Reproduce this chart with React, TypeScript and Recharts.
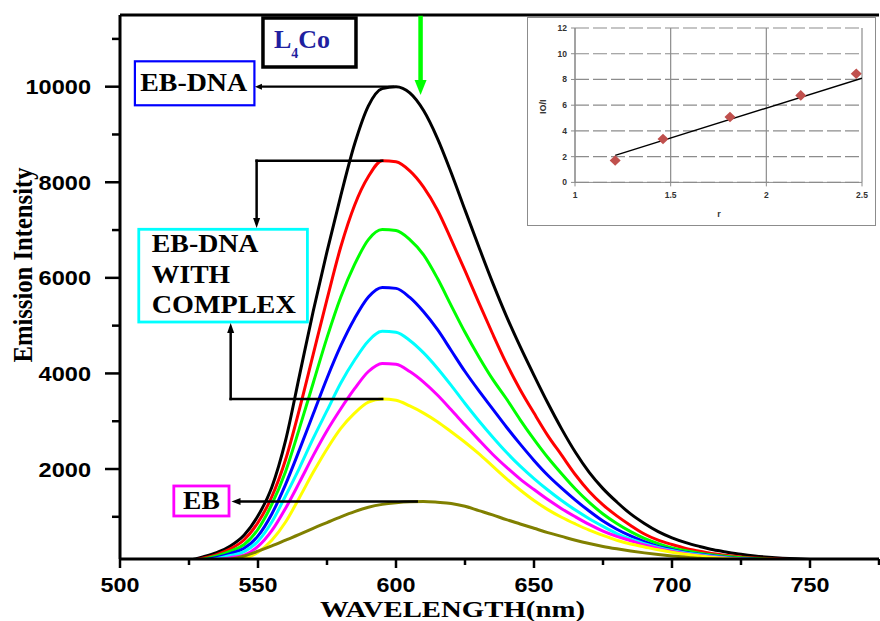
import React from 'react';
import {
  LineChart, Line, XAxis, YAxis, ReferenceLine, ReferenceArea,
  ComposedChart, Scatter, CartesianGrid,
} from 'recharts';

const SERIF = "'Liberation Serif', 'Times New Roman', serif";
const SANS = "'Liberation Sans', Arial, sans-serif";

// ---------- main spectra ----------
const wavelengths = [
  505, 510, 515, 520, 525, 530, 535, 540, 545, 550, 555, 560, 565, 570, 575, 580, 585, 590, 595, 600,
  605, 610, 615, 620, 625, 630, 635, 640, 645, 650, 655, 660, 665, 670, 675, 680, 685, 690, 695, 700,
  705, 710, 715, 720, 725, 730, 735, 740, 745, 750, 755, 760, 765, 770, 775,
];

const ebDnaBlack = [
  0, 5, 20, 45, 90, 160, 250, 390, 620, 1020, 1620, 2600, 3950, 5300, 6550, 7720, 8800, 9600, 9960, 10000,
  9870, 9500, 8920, 8200, 7420, 6650, 5900, 5200, 4560, 3960, 3380, 2840, 2350, 1930, 1590, 1310, 1060, 860, 690, 560,
  460, 380, 310, 260, 215, 180, 155, 135, 120, 108, 98, 90, 82, 76, 70,
];
const complexRed = [
  0, 5, 15, 35, 75, 135, 210, 330, 520, 880, 1420, 2200, 3250, 4400, 5550, 6650, 7520, 8120, 8450, 8430,
  8240, 7900, 7420, 6800, 6150, 5480, 4830, 4210, 3660, 3170, 2700, 2290, 1880, 1530, 1250, 1020, 820, 640, 510, 420,
  340, 280, 225, 190, 160, 140, 125, 112, 102, 94, 87, 80, 74, 68, 63,
];
const complexGreen = [
  0, 4, 12, 30, 62, 115, 180, 280, 420, 740, 1260, 1950, 2850, 3800, 4750, 5600, 6280, 6800, 7010, 6990,
  6800, 6480, 5990, 5420, 4860, 4350, 3880, 3470, 3030, 2620, 2240, 1900, 1580, 1300, 1060, 860, 690, 550, 440, 350,
  290, 240, 200, 170, 145, 125, 112, 100, 92, 85, 79, 73, 68, 63, 58,
];
const complexBlue = [
  0, 3, 10, 25, 50, 95, 150, 230, 340, 600, 1060, 1680, 2400, 3150, 3900, 4580, 5150, 5600, 5800, 5780,
  5590, 5290, 4920, 4480, 4040, 3640, 3260, 2880, 2520, 2180, 1870, 1600, 1350, 1120, 910, 740, 600, 480, 380, 310,
  255, 215, 180, 150, 125, 110, 100, 92, 85, 79, 73, 68, 63, 58, 54,
];
const complexCyan = [
  0, 3, 8, 20, 42, 78, 125, 190, 270, 490, 890, 1440, 2020, 2640, 3220, 3800, 4280, 4680, 4880, 4860,
  4690, 4430, 4110, 3750, 3370, 3010, 2670, 2350, 2060, 1800, 1560, 1340, 1140, 960, 800, 650, 530, 440, 360, 295,
  245, 205, 170, 140, 120, 106, 96, 88, 81, 75, 70, 65, 60, 56, 52,
];
const complexMagenta = [
  0, 2, 6, 15, 32, 60, 100, 145, 200, 380, 710, 1180, 1720, 2280, 2800, 3260, 3680, 4040, 4210, 4190,
  4040, 3820, 3550, 3240, 2920, 2610, 2310, 2040, 1790, 1570, 1360, 1170, 1000, 840, 700, 590, 500, 410, 335, 275,
  228, 190, 160, 135, 115, 102, 92, 85, 78, 72, 67, 62, 58, 54, 50,
];
const complexYellow = [
  0, 1, 4, 10, 20, 40, 65, 95, 130, 260, 510, 890, 1400, 1930, 2420, 2850, 3170, 3400, 3465, 3440,
  3320, 3170, 2990, 2780, 2560, 2320, 2060, 1800, 1560, 1340, 1150, 990, 850, 720, 610, 510, 430, 370, 310, 260,
  215, 180, 150, 126, 108, 96, 87, 80, 74, 69, 64, 60, 56, 52, 48,
];
const ebOlive = [
  0, 2, 6, 12, 20, 30, 60, 110, 180, 280, 390, 510, 630, 760, 880, 1000, 1110, 1200, 1260, 1295,
  1315, 1320, 1305, 1280, 1220, 1130, 1040, 940, 850, 760, 670, 590, 510, 440, 380, 330, 285, 245, 210, 180,
  155, 132, 115, 102, 92, 84, 77, 71, 66, 61, 57, 53, 50, 47, 44,
];

const series = [
  { key: 'ebDna', color: '#000000', values: ebDnaBlack },
  { key: 'red', color: '#ff0000', values: complexRed },
  { key: 'green', color: '#00ff00', values: complexGreen },
  { key: 'blue', color: '#0000ff', values: complexBlue },
  { key: 'cyan', color: '#00ffff', values: complexCyan },
  { key: 'magenta', color: '#ff00ff', values: complexMagenta },
  { key: 'yellow', color: '#ffff00', values: complexYellow },
  { key: 'eb', color: '#808000', values: ebOlive },
];

const xTicks = [500, 525, 550, 575, 600, 625, 650, 675, 700, 725, 750, 775];
const xTickLabels = [500, 550, 600, 650, 700, 750];
const yTicks = [1000, 2000, 3000, 4000, 5000, 6000, 7000, 8000, 9000, 10000, 11000];
const yTickLabels = [2000, 4000, 6000, 8000, 10000];

const mainData = wavelengths.map((wl, i) => {
  const row: Record<string, number> = { wl };
  series.forEach((s) => { row[s.key] = s.values[i]; });
  return row;
});

function peakOf(values: number[]) {
  let idx = 0;
  values.forEach((v, i) => { if (v > values[idx]) idx = i; });
  return { x: wavelengths[idx], y: values[idx] };
}
const pBlack = peakOf(ebDnaBlack);
const pRed = peakOf(complexRed);
const pYellow = peakOf(complexYellow);
const pOlive = peakOf(ebOlive);

// ---------- inset (Stern-Volmer) ----------
const rValues = [1.21, 1.46, 1.81, 2.18, 2.47];
const ratioValues = [1.7, 3.37, 5.08, 6.76, 8.45];
const trendR = [1.21, 2.5];
const trendRatio = [2.1, 8.1];
const insetXTicks = [1, 1.5, 2, 2.5];
const insetYTicks = [0, 2, 4, 6, 8, 10, 12];
const insetPoints = rValues.map((r, i) => ({ r, q: ratioValues[i] }));
const trendPoints = trendR.map((r, i) => ({ r, q: trendRatio[i] }));

// ---------- helpers ----------
const XTick = (props: any) => {
  const { x, y, payload } = props;
  const v = payload.value as number;
  const major = xTickLabels.includes(v);
  const label = String(v);
  return (
    <g>
      <line x1={x} y1={y} x2={x} y2={y + (major ? 9 : 6)} stroke="#000" strokeWidth={2.5} />
      {major && (
        <text x={x} y={y + 32.5} textAnchor="middle" fontFamily={SANS} fontWeight="bold" fontSize={20.5}
          textLength={label.length * 13} lengthAdjust="spacingAndGlyphs" fill="#000">{label}</text>
      )}
    </g>
  );
};

const YTick = (props: any) => {
  const { x, y, payload } = props;
  const v = payload.value as number;
  const major = yTickLabels.includes(v);
  const label = String(v);
  return (
    <g>
      <line x1={x} y1={y} x2={x - (major ? 15 : 8)} y2={y} stroke="#000" strokeWidth={2.5} />
      {major && (
        <text x={x - 29} y={y + 7.5} textAnchor="end" fontFamily={SANS} fontWeight="bold" fontSize={21}
          textLength={label.length * 13.1} lengthAdjust="spacingAndGlyphs" fill="#000">{label}</text>
      )}
    </g>
  );
};

const arrow = (color: string, width: number, head: number, headW: number, withHead: boolean) => (p: any) => {
  const { x1, y1, x2, y2 } = p;
  const dx = x2 - x1;
  const dy = y2 - y1;
  const len = Math.hypot(dx, dy) || 1;
  const ux = dx / len;
  const uy = dy / len;
  const bx = x2 - ux * head;
  const by = y2 - uy * head;
  const px = (-uy * headW) / 2;
  const py = (ux * headW) / 2;
  return (
    <g>
      <line x1={x1} y1={y1} x2={withHead ? bx : x2} y2={withHead ? by : y2} stroke={color}
        strokeWidth={width} strokeLinecap="square" />
      {withHead && <polygon points={`${x2},${y2} ${bx + px},${by + py} ${bx - px},${by - py}`} fill={color} />}
    </g>
  );
};

const box = (stroke: string, sw: number, content: (x: number, y: number, w: number, h: number) => React.ReactNode) =>
  (p: any) => {
    const { x, y, width, height } = p;
    return (
      <g>
        <rect x={x} y={y} width={width} height={height} fill="#fff" stroke={stroke} strokeWidth={sw} />
        {content(x, y, width, height)}
      </g>
    );
  };

const serifText = { fontFamily: SERIF, fontWeight: 'bold' as const, fill: '#000' };

const Diamond = (p: any) => {
  const { cx, cy } = p;
  return <polygon points={`${cx},${cy - 5.3} ${cx + 5.5},${cy} ${cx},${cy + 5.3} ${cx - 5.5},${cy}`} fill="#C0504D" />;
};

export default function App() {
  return (
    <div style={{ position: 'absolute', left: 0, top: 0, width: 880, height: 621, background: '#fff', overflow: 'hidden' }}>
      <LineChart width={880} height={621} data={mainData} margin={{ top: 15, right: 1, left: 0, bottom: 0 }}>
        <XAxis dataKey="wl" type="number" domain={[500, 775]} ticks={xTicks} interval={0} height={62}
          tick={<XTick />} tickLine={false} tickSize={0} tickMargin={0}
          axisLine={{ stroke: '#000', strokeWidth: 3 }} allowDataOverflow />
        <YAxis type="number" domain={[117, 11500]} ticks={yTicks} interval={0} width={120}
          tick={<YTick />} tickLine={false} tickSize={0} tickMargin={0}
          axisLine={{ stroke: '#000', strokeWidth: 3 }} allowDataOverflow />
        <ReferenceLine y={11500} stroke="#000" strokeWidth={3} />
        {series.map((s) => (
          <Line key={s.key} dataKey={s.key} type="monotone" stroke={s.color} strokeWidth={3}
            dot={false} activeDot={false} isAnimationActive={false} />
        ))}

        {/* connectors */}
        <ReferenceLine segment={[{ x: pBlack.x - 1, y: pBlack.y }, { x: 548.9, y: pBlack.y }]}
          shape={arrow('#000', 2.2, 7, 6, true)} />
        <ReferenceLine segment={[{ x: pRed.x, y: pRed.y }, { x: 549.5, y: pRed.y }]}
          shape={arrow('#000', 2.5, 0, 0, false)} />
        <ReferenceLine segment={[{ x: 549.5, y: pRed.y }, { x: 549.5, y: 7043 }]}
          shape={arrow('#000', 2.5, 10, 7, true)} />
        <ReferenceLine segment={[{ x: pYellow.x, y: pYellow.y }, { x: 540.1, y: pYellow.y }]}
          shape={arrow('#000', 2.5, 0, 0, false)} />
        <ReferenceLine segment={[{ x: 540.1, y: pYellow.y }, { x: 540.1, y: 5055 }]}
          shape={arrow('#000', 2.5, 10, 7, true)} />
        <ReferenceLine segment={[{ x: pOlive.x - 2.5, y: pOlive.y }, { x: 540.4, y: pOlive.y }]}
          shape={arrow('#000', 2.5, 9, 7, true)} />
        <ReferenceLine segment={[{ x: 608.9, y: 11437 }, { x: 608.9, y: 9824 }]}
          shape={arrow('#00ff00', 4.5, 15, 12, true)} />

        {/* label boxes */}
        <ReferenceArea x1={551.8} x2={585.5} y1={10412} y2={11437}
          shape={box('#000', 3.5, (x, y) => (
            <text x={x + 11} y={y + 30} fontFamily={SERIF} fontWeight="bold" fontSize={26} fill="#1f1f9f">
              L<tspan fontSize={14} dy={10}>4</tspan><tspan dy={-10}>Co</tspan>
            </text>
          ))} />
        <ReferenceArea x1={505.4} x2={548.7} y1={9611} y2={10531}
          shape={box('#0000ff', 2.2, (x, y, w) => (
            <text x={x + w / 2 - 1} y={y + 29.4} textAnchor="middle" fontSize={26} {...serifText}
              textLength={107} lengthAdjust="spacingAndGlyphs">EB-DNA</text>
          ))} />
        <ReferenceArea x1={506.8} x2={567.9} y1={5076} y2={7016}
          shape={box('#00ffff', 2.8, (x, y) => (
            <g>
              <text x={x + 13} y={y + 22.7} fontSize={25} {...serifText} textLength={106.7} lengthAdjust="spacingAndGlyphs">EB-DNA</text>
              <text x={x + 13} y={y + 53.7} fontSize={25} {...serifText} textLength={78.3} lengthAdjust="spacingAndGlyphs">WITH</text>
              <text x={x + 13} y={y + 83.7} fontSize={25} {...serifText} textLength={144} lengthAdjust="spacingAndGlyphs">COMPLEX</text>
            </g>
          ))} />
        <ReferenceArea x1={519.5} x2={539.5} y1={1017} y2={1645}
          shape={box('#ff00ff', 2.8, (x, y, w) => (
            <text x={x + w / 2} y={y + 23} textAnchor="middle" fontSize={25} {...serifText}
              textLength={36.7} lengthAdjust="spacingAndGlyphs">EB</text>
          ))} />
      </LineChart>

      {/* axis titles */}
      <svg width={880} height={621} style={{ position: 'absolute', left: 0, top: 0, pointerEvents: 'none' }}>
        <text transform="translate(31.5,265) rotate(-90) scale(1,1.1)" textAnchor="middle" fontSize={25}
          {...serifText} textLength={195} lengthAdjust="spacingAndGlyphs">Emission Intensity</text>
        <text x={320} y={616.5} fontSize={22.8} {...serifText} textLength={265} lengthAdjust="spacingAndGlyphs">WAVELENGTH(nm)</text>
      </svg>

      {/* inset */}
      <div style={{ position: 'absolute', left: 527, top: 17, width: 349, height: 209, background: '#fff',
        border: '1.5px solid #8c8c8c', boxSizing: 'border-box' }} />
      <div style={{ position: 'absolute', left: 527, top: 17, width: 349, height: 209 }}>
        <ComposedChart width={349} height={209} margin={{ top: 11, right: 14, left: 0, bottom: 0 }}>
          <CartesianGrid horizontal={false} stroke="#8c8c8c" strokeWidth={1.2} />
          <CartesianGrid vertical={false} stroke="#8c8c8c" strokeWidth={1.2} strokeDasharray="14 4" />
          <XAxis dataKey="r" type="number" domain={[1, 2.5]} ticks={insetXTicks} interval={0} height={43.6}
            stroke="#8c8c8c" tickSize={4} tickMargin={6} allowDataOverflow
            tick={{ fontSize: 8.5, fontWeight: 'bold', fill: '#333', fontFamily: SANS }} />
          <YAxis dataKey="q" type="number" domain={[0, 12]} ticks={insetYTicks} interval={0} width={48}
            stroke="#8c8c8c" tickSize={4} tickMargin={4} allowDataOverflow
            tick={{ fontSize: 8.5, fontWeight: 'bold', fill: '#333', fontFamily: SANS }} />
          <Scatter data={insetPoints} shape={<Diamond />} isAnimationActive={false} />
          <Line data={trendPoints} dataKey="q" type="linear" stroke="#000" strokeWidth={1.5}
            dot={false} activeDot={false} isAnimationActive={false} />
        </ComposedChart>
        <svg width={349} height={209} style={{ position: 'absolute', left: 0, top: 0, pointerEvents: 'none' }}>
          <text transform="translate(19,89.7) rotate(-90)" textAnchor="middle" fontFamily={SANS} fontSize={9}
            fontWeight="bold" fill="#333">IO/I</text>
          <text x={192} y={200} textAnchor="middle" fontFamily={SANS} fontSize={9} fontWeight="bold" fill="#333">r</text>
        </svg>
      </div>
    </div>
  );
}
